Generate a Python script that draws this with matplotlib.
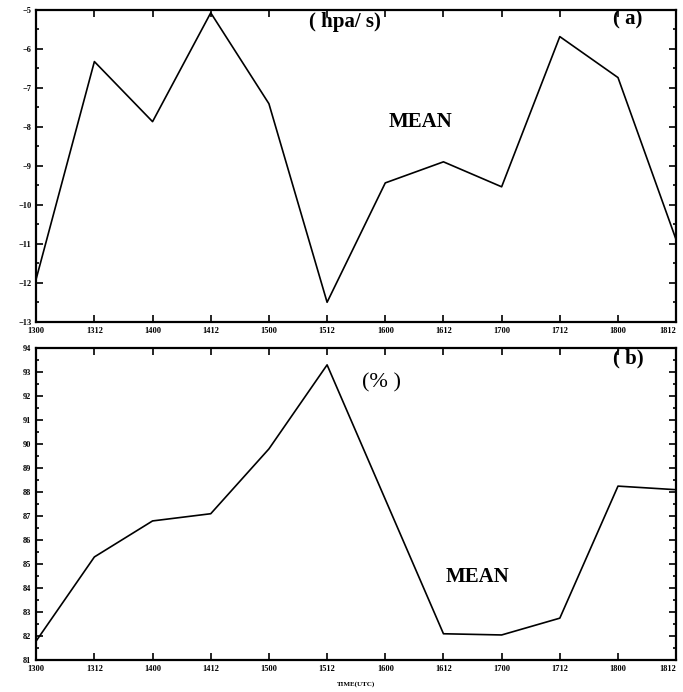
import matplotlib
matplotlib.use("Agg")
import matplotlib.pyplot as plt
from matplotlib.ticker import MultipleLocator

times = ["1300", "1312", "1400", "1412", "1500", "1512",
         "1600", "1612", "1700", "1712", "1800", "1812"]
omega = [-11.9, -6.33, -7.87, -5.08, -7.41, -12.5,
         -9.44, -8.9, -9.54, -5.69, -6.74, -10.9]
rh = [81.8, 85.3, 86.8, 87.1, 89.8, 93.3,
      87.7, 82.1, 82.05, 82.75, 88.25, 88.1]

plt.rcParams['font.family'] = ['Liberation Serif', 'DejaVu Serif']

fig = plt.figure(figsize=(6.83, 6.92), dpi=100)
ax1 = fig.add_axes([0.053, 0.535, 0.937, 0.451])
ax2 = fig.add_axes([0.053, 0.046, 0.937, 0.451])

x = list(range(len(times)))


def style(ax, ymin, ymax):
    ax.set_xlim(0, len(times) - 1)
    ax.set_ylim(ymin, ymax)
    ax.set_xticks(x)
    ax.set_xticklabels(times, fontsize=6, fontweight='bold')
    ax.get_xticklabels()[-1].set_ha('right')
    ax.yaxis.set_major_locator(MultipleLocator(1))
    ax.yaxis.set_minor_locator(MultipleLocator(0.5))
    ax.tick_params(axis='both', which='both', direction='in',
                   top=True, right=True, labelsize=6, width=1.2)
    ax.tick_params(which='major', length=5)
    ax.tick_params(which='minor', length=2.5)
    for lab in ax.get_yticklabels():
        lab.set_fontweight('bold')
    for sp in ax.spines.values():
        sp.set_linewidth(1.6)


ax1.plot(x, omega, color='black', lw=1.2)
style(ax1, -13, -5)
ax1.text(0.483, 0.962, "( hpa/ s)", transform=ax1.transAxes, ha='center',
         va='center', fontsize=15, fontweight='bold')
ax1.text(0.6, 0.641, "MEAN", transform=ax1.transAxes, ha='center',
         va='center', fontsize=15, fontweight='bold')
ax1.text(0.925, 0.968, "( a)", transform=ax1.transAxes, ha='center',
         va='center', fontsize=15, fontweight='bold')

ax2.plot(x, rh, color='black', lw=1.2)
style(ax2, 81, 94)
ax2.text(0.54, 0.89, "(% )", transform=ax2.transAxes, ha='center',
         va='center', fontsize=16)
ax2.text(0.925, 0.968, "( b)", transform=ax2.transAxes, ha='center',
         va='center', fontsize=15, fontweight='bold')
ax2.text(0.689, 0.266, "MEAN", transform=ax2.transAxes, ha='center',
         va='center', fontsize=15, fontweight='bold')
ax2.set_xlabel("TIME(UTC)", fontsize=5, fontweight='bold', labelpad=6)

fig.savefig("out.png", dpi=100)
